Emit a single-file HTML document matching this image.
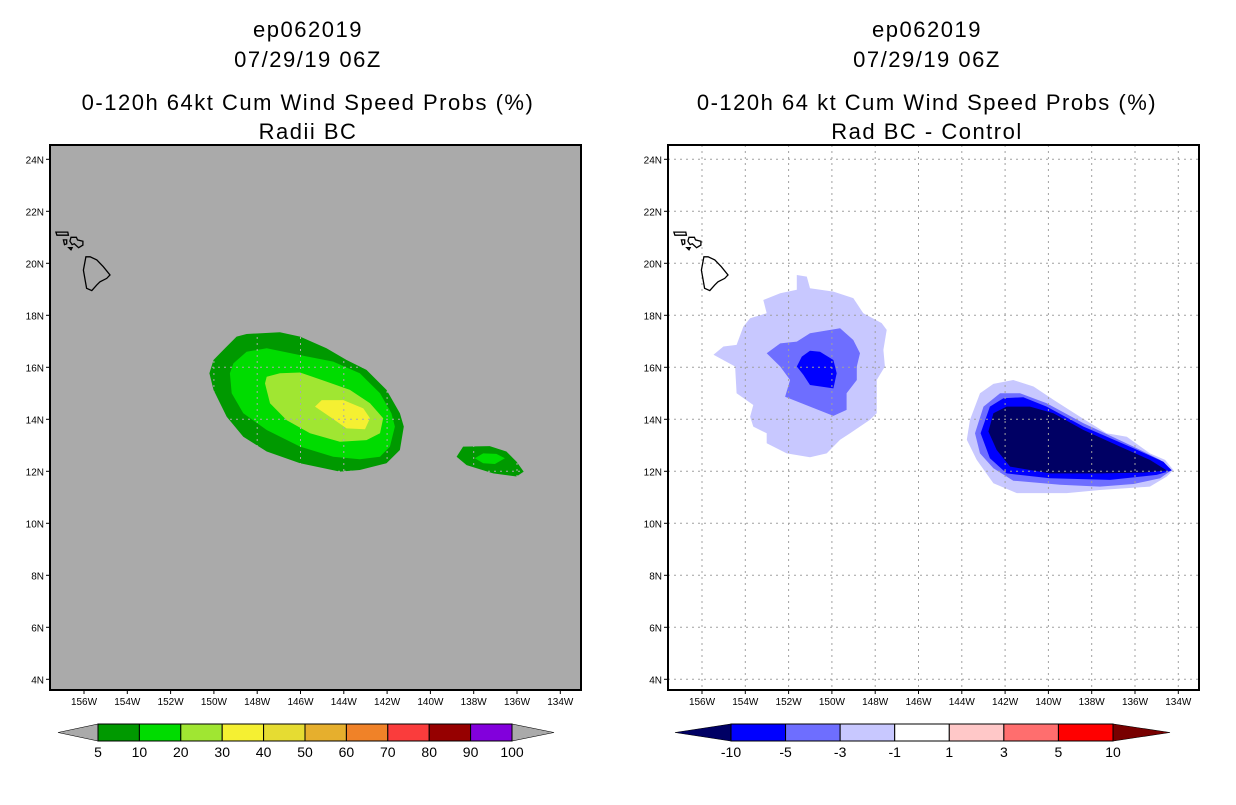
<!DOCTYPE html>
<html><head><meta charset="utf-8"><style>
body{margin:0;background:#fff;width:1236px;height:800px;overflow:hidden}
svg text{font-family:"Liberation Sans",sans-serif}
</style></head><body>
<svg id="svg" width="1236" height="800">
<g id="left"></g>
<g id="right"></g>
</svg>
<script>
// ---- data ----
const lonTicks=[-156,-154,-152,-150,-148,-146,-144,-142,-140,-138,-136,-134];
const latTicks=[4,6,8,10,12,14,16,18,20,22,24];
const leftLevels=['5','10','20','30','40','50','60','70','80','90','100'];
const leftColors=['#009900','#00dc00','#a0e632','#f5f032','#e6dc32','#e6af2d','#f08228','#fa3c3c','#960000','#8200dc'];
const rightLevels=['-10','-5','-3','-1','1','3','5','10'];
const rightColors=['#000064','#0000ff','#6e6eff','#c8c8ff','#ffffff','#ffc8c8','#ff6e6e','#ff0000','#780000'];
// left contours [lon,lat]
const probOuter5=[[-150.21,15.77],[-150.02,16.28],[-149.56,16.67],[-148.95,17.18],[-148.49,17.28],[-146.95,17.35],[-146.02,17.18],[-144.8,16.73],[-143.87,16.28],[-142.95,15.9],[-142.03,15.13],[-141.41,14.23],[-141.23,13.72],[-141.41,12.82],[-142.03,12.31],[-143.26,12.05],[-144.18,11.99],[-146.02,12.31],[-147.56,12.76],[-148.64,13.33],[-149.41,14.1],[-150.02,15.13]];
const prob10=[[-149.26,15.77],[-149.1,16.15],[-148.49,16.6],[-147.56,16.73],[-146.02,16.47],[-144.49,16.22],[-143.26,15.77],[-142.33,15.0],[-141.8,14.23],[-141.64,13.72],[-141.87,12.95],[-142.33,12.56],[-143.26,12.46],[-144.49,12.56],[-146.02,12.95],[-147.56,13.59],[-148.64,14.23],[-149.18,15.0]];
const prob20=[[-147.64,15.38],[-147.56,15.64],[-146.95,15.77],[-146.02,15.8],[-144.8,15.45],[-143.72,15.13],[-142.79,14.62],[-142.18,14.04],[-142.33,13.46],[-142.95,13.2],[-144.18,13.14],[-145.56,13.46],[-146.64,13.97],[-147.41,14.62]];
const prob30=[[-145.33,14.49],[-145.02,14.74],[-144.02,14.74],[-143.1,14.42],[-142.79,14.04],[-143.02,13.62],[-143.87,13.65],[-144.64,14.1]];
const probSmall5=[[-138.79,12.56],[-138.49,12.95],[-137.26,12.97],[-136.49,12.76],[-136.02,12.37],[-135.69,11.99],[-136.02,11.8],[-137.1,11.92],[-138.33,12.24]];
const probSmall10=[[-137.95,12.5],[-137.56,12.69],[-136.95,12.67],[-136.56,12.5],[-137.02,12.28],[-137.56,12.31]];
// right contours
const diffW1=[[-151.62,19.55],[-151.16,19.49],[-151.01,19.04],[-149.93,18.91],[-149.01,18.66],[-148.55,18.08],[-147.7,17.7],[-147.47,17.44],[-147.62,16.67],[-147.55,16.03],[-147.93,15.51],[-147.93,14.23],[-148.24,13.98],[-149.16,13.46],[-149.62,13.21],[-150.24,12.69],[-151.01,12.54],[-152.09,12.69],[-153.01,13.08],[-153.01,13.46],[-153.63,13.72],[-153.78,14.1],[-153.63,14.55],[-154.4,15.0],[-154.47,16.03],[-155.47,16.48],[-155.01,16.8],[-154.4,16.86],[-154.09,17.57],[-153.78,17.89],[-153.01,18.08],[-153.17,18.59],[-152.39,18.85],[-151.62,18.98]];
const diffW3=[[-153.01,16.54],[-152.39,16.92],[-151.62,16.99],[-151.01,17.31],[-149.62,17.5],[-149.01,17.05],[-148.7,16.54],[-148.85,16.03],[-148.85,15.51],[-149.32,15.0],[-149.32,14.36],[-149.93,14.13],[-151.01,14.49],[-152.16,14.87],[-151.93,15.51],[-152.39,16.03]];
const diffW5=[[-151.62,16.03],[-151.39,16.41],[-151.01,16.64],[-150.55,16.6],[-149.93,16.28],[-149.78,15.77],[-149.93,15.19],[-151.01,15.32],[-151.32,15.71]];
const diffE1=[[-143.62,13.98],[-143.16,15.0],[-142.54,15.36],[-141.62,15.51],[-140.69,15.26],[-139.77,14.75],[-138.54,14.1],[-137.31,13.46],[-136.38,13.33],[-135.31,12.69],[-134.61,12.44],[-134.23,12.05],[-134.53,11.8],[-135.31,11.41],[-137.62,11.28],[-139.15,11.16],[-141.46,11.16],[-142.54,11.54],[-143.31,12.44],[-143.77,13.21]];
const diffE3=[[-143.39,13.46],[-143.0,14.49],[-142.23,15.0],[-141.31,15.0],[-140.08,14.62],[-138.38,13.85],[-136.07,12.95],[-134.84,12.44],[-134.3,12.05],[-134.84,11.73],[-136.07,11.51],[-137.62,11.41],[-139.46,11.48],[-141.62,11.64],[-142.54,12.12],[-143.16,12.69]];
const diffE5=[[-143.13,13.46],[-142.7,14.49],[-142.08,14.81],[-141.16,14.85],[-140.08,14.49],[-138.38,13.72],[-136.07,12.89],[-134.69,12.37],[-134.3,12.03],[-135.0,11.86],[-137.15,11.67],[-139.93,11.73],[-141.93,11.92],[-142.7,12.5]];
const diffE10=[[-142.77,13.53],[-142.54,14.23],[-141.93,14.49],[-140.85,14.49],[-139.77,14.23],[-138.38,13.59],[-136.69,12.95],[-135.31,12.44],[-134.53,12.03],[-135.61,11.95],[-137.62,11.92],[-139.93,11.92],[-141.77,12.18],[-142.39,12.82]];
const bigIsland=[[-155.91,20.25],[-155.72,20.25],[-155.41,20.13],[-155.11,19.87],[-154.8,19.55],[-154.95,19.42],[-155.26,19.29],[-155.41,19.17],[-155.64,18.95],[-155.88,19.04],[-155.95,19.36],[-156.03,19.74]];
const maui=[[-156.6,21.0],[-156.35,21.0],[-156.3,20.9],[-156.05,20.85],[-156.05,20.7],[-156.25,20.6],[-156.45,20.75],[-156.55,20.72],[-156.65,20.85]];
const molokai=[[-157.3,21.2],[-156.75,21.2],[-156.72,21.08],[-157.25,21.08]];
const lanai=[[-156.95,20.9],[-156.8,20.9],[-156.8,20.75],[-156.9,20.72]];
const kaho=[[-156.7,20.6],[-156.55,20.6],[-156.6,20.52]];

const NS='http://www.w3.org/2000/svg';
function el(tag,attrs,parent){const e=document.createElementNS(NS,tag);for(const k in attrs)e.setAttribute(k,attrs[k]);parent.appendChild(e);return e;}
function makePanel(g,x0,bg){
  const X=lon=>x0+34+(lon+156)*21.65, Y=lat=>471.3+(12-lat)*26;
  const box={x:x0,y:145,w:531,h:545};
  const cp=el('clipPath',{id:'cp'+x0},g);el('rect',{x:box.x,y:box.y,width:box.w,height:box.h},cp);
  const bgr=el('rect',{x:box.x,y:box.y,width:box.w,height:box.h,fill:bg},g);
  
  
  const inner=el('g',{'clip-path':'url(#cp'+x0+')'},g);
  const poly=(pts,fill,name,stroke)=>{const p=el('polygon',{points:pts.map(d=>X(d[0]).toFixed(1)+','+Y(d[1]).toFixed(1)).join(' '),fill:fill,stroke:stroke||'none','stroke-width':1.3},inner);
    
    return p;};
  return {X,Y,box,inner,poly};
}
function axes(g,P,gridColor){
  const {X,Y,box}=P;
  lonTicks.forEach(l=>{const x=X(l);
    el('line',{x1:x,y1:box.y,x2:x,y2:box.y+box.h,stroke:gridColor,'stroke-dasharray':'2,4','stroke-width':1},P.inner);
    el('line',{x1:x,y1:box.y+box.h,x2:x,y2:box.y+box.h+4,stroke:'#000'},g);
    const t=el('text',{x:x,y:box.y+box.h+15,'font-size':10,'text-anchor':'middle'},g);t.textContent=Math.abs(l)+'W';
    
    });
  latTicks.forEach(l=>{const y=Y(l);
    el('line',{x1:box.x,y1:y,x2:box.x+box.w,y2:y,stroke:gridColor,'stroke-dasharray':'2,4','stroke-width':1},P.inner);
    el('line',{x1:box.x-4,y1:y,x2:box.x,y2:y,stroke:'#000'},g);
    const t=el('text',{x:box.x-6,y:y+4,'font-size':10,'text-anchor':'end'},g);t.textContent=l+'N';
    
    });
  [bigIsland,maui,molokai,lanai,kaho].forEach(isl=>P.poly(isl,'none','island-outline','#000'));
  el('rect',{x:box.x,y:box.y,width:box.w,height:box.h,fill:'none',stroke:'#000','stroke-width':2},g);
}
function titles(g,cx,lines){
  const ys=[37,67,110,139];
  lines.forEach((s,i)=>{const t=el('text',{x:cx,y:ys[i],'font-size':22,'text-anchor':'middle','letter-spacing':'1.5'},g);t.textContent=s;
    
    });
}
function colorbar(g,x0,x1,tipL,tipR,colors,labels,lcol,rcol){
  const n=labels.length-1, w=(x1-x0)/n, y0=724,y1=741;
  const tl=el('polygon',{points:`${tipL},${(y0+y1)/2} ${x0},${y0} ${x0},${y1}`,fill:lcol,stroke:'#000','stroke-width':0.6},g);
  
  
  const tr=el('polygon',{points:`${tipR},${(y0+y1)/2} ${x1},${y0} ${x1},${y1}`,fill:rcol,stroke:'#000','stroke-width':0.6},g);
  
  
  for(let i=0;i<n;i++){const r=el('rect',{x:x0+i*w,y:y0,width:w,height:y1-y0,fill:colors[i],stroke:'#000','stroke-width':1},g);
    
    }
  labels.forEach((s,i)=>{const t=el('text',{x:x0+i*w,y:757,'font-size':14,'text-anchor':'middle'},g);t.textContent=s;
    
    });
}
// left
const gL=document.getElementById('left');
const PL=makePanel(gL,50,'#aaaaaa');
PL.poly(probOuter5,leftColors[0],'prob-5-contour');
PL.poly(prob10,leftColors[1],'prob-10-contour');
PL.poly(prob20,leftColors[2],'prob-20-contour');
PL.poly(prob30,leftColors[3],'prob-30-contour');
PL.poly(probSmall5,leftColors[0],'prob-5-contour-east');
PL.poly(probSmall10,leftColors[1],'prob-10-contour-east');
axes(gL,PL,'#aaaaaa');
titles(gL,308,['ep062019','07/29/19 06Z','0-120h 64kt Cum Wind Speed Probs (%)','Radii BC']);
colorbar(gL,98,512,58,554,leftColors,leftLevels,'#aaaaaa','#aaaaaa');
// right
const gR=document.getElementById('right');
const PR=makePanel(gR,668,'#ffffff');
PR.poly(diffW1,rightColors[3],'diff-minus1-west');
PR.poly(diffW3,rightColors[2],'diff-minus3-west');
PR.poly(diffW5,rightColors[1],'diff-minus5-west');
PR.poly(diffE1,rightColors[3],'diff-minus1-east');
PR.poly(diffE3,rightColors[2],'diff-minus3-east');
PR.poly(diffE5,rightColors[1],'diff-minus5-east');
PR.poly(diffE10,rightColors[0],'diff-minus10-east');
axes(gR,PR,'#a0a0a0');
titles(gR,927,['ep062019','07/29/19 06Z','0-120h 64 kt Cum Wind Speed Probs (%)','Rad BC - Control']);
const rc=[rightColors[1],rightColors[2],rightColors[3],rightColors[4],rightColors[5],rightColors[6],rightColors[7]];
colorbar(gR,731,1113,675,1170,rc,rightLevels,rightColors[0],rightColors[8]);
</script>
</body></html>
